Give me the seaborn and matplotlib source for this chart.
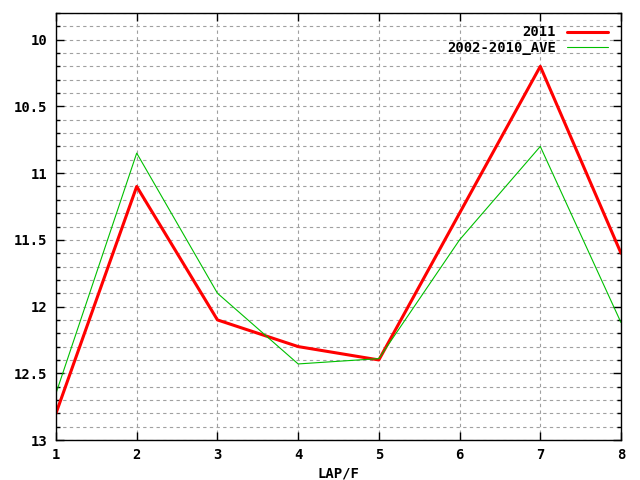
import pandas as pd
import seaborn as sns
import matplotlib
matplotlib.use('Agg')
import matplotlib.pyplot as plt
from matplotlib.ticker import MultipleLocator, FormatStrFormatter


laps = [1, 2, 3, 4, 5, 6, 7, 8]
times_2011 = [12.8, 11.1, 12.1, 12.3, 12.4, 11.3, 10.2, 11.6]
times_ave = [12.65, 10.85, 11.9, 12.43, 12.39, 11.5, 10.8, 12.12]
series_names = ['2011', '2002-2010_AVE']


sns.set_style('white')
plt.rcParams['font.family'] = ['DejaVu Sans Mono']
plt.rcParams['font.weight'] = 'bold'
plt.rcParams['axes.labelweight'] = 'bold'
plt.rcParams['font.size'] = 10
plt.rcParams['text.color'] = 'black'
plt.rcParams['axes.labelcolor'] = 'black'
plt.rcParams['xtick.color'] = 'black'
plt.rcParams['ytick.color'] = 'black'

df_2011 = pd.DataFrame({'lap': laps, 'time': times_2011})
df_ave = pd.DataFrame({'lap': laps, 'time': times_ave})

fig = plt.figure(figsize=(6.4, 4.8), dpi=100)
ax = fig.add_axes([56 / 640, 1 - 440 / 480, 565 / 640, 427 / 480])

sns.lineplot(x='lap', y='time', data=df_2011, color='#ff0000',
             linewidth=2.2, label=series_names[0], ax=ax)
sns.lineplot(x='lap', y='time', data=df_ave, color='#00c000',
             linewidth=0.8, label=series_names[1], ax=ax)

ax.set_xlim(1, 8)
ax.set_ylim(13, 9.8)
ax.xaxis.set_major_locator(MultipleLocator(1))
ax.yaxis.set_major_locator(MultipleLocator(0.5))
ax.yaxis.set_minor_locator(MultipleLocator(0.1))
ax.yaxis.set_major_formatter(FormatStrFormatter('%g'))

grid_style = dict(color='#a0a0a0', linestyle=(0, (3, 3)), linewidth=0.8)
ax.grid(True, axis='x', which='major', **grid_style)
ax.grid(True, axis='y', which='both', **grid_style)
ax.set_axisbelow(True)

ax.tick_params(axis='both', which='both', direction='in',
               top=True, right=True, left=True, bottom=True,
               color='black', width=1)
ax.tick_params(axis='both', which='major', length=6, pad=6)
ax.tick_params(axis='y', which='minor', length=3)
for spine in ax.spines.values():
    spine.set_color('black')
    spine.set_linewidth(1)

ax.set_xlabel('LAP/F', labelpad=3)
ax.set_ylabel('')

leg = ax.legend(loc='upper right', frameon=False, markerfirst=False,
                handlelength=3.0, handletextpad=0.8, borderaxespad=0.5,
                labelspacing=0.1)
for t in leg.get_texts():
    t.set_ha('right')

fig.savefig('out.png', dpi=100)
